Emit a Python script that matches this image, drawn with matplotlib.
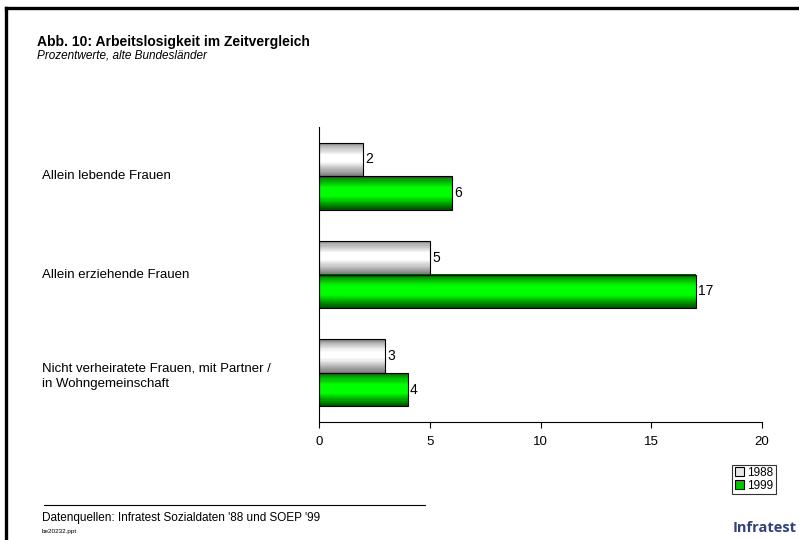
import numpy as np
import matplotlib
matplotlib.use("Agg")
import matplotlib.pyplot as plt
from matplotlib.colors import LinearSegmentedColormap
from matplotlib.patches import Rectangle
from matplotlib.lines import Line2D

plt.rcParams['font.family'] = ['Liberation Sans', 'DejaVu Sans']

categories = [
    "Allein lebende Frauen",
    "Allein erziehende Frauen",
    "Nicht verheiratete Frauen, mit Partner /\nin Wohngemeinschaft",
]
years = ["1988", "1999"]
values_1988 = [2, 5, 3]
values_1999 = [6, 17, 4]
x_ticks = [0, 5, 10, 15, 20]

W, H = 799, 540
fig = plt.figure(figsize=(W / 100, H / 100), dpi=100)

def fx(px):
    return px / W

def fy(py):
    return 1 - py / H

# frame lines (top and left)
fig.add_artist(Line2D([fx(6), fx(799)], [fy(8), fy(8)], color='black', lw=2.4))
fig.add_artist(Line2D([fx(6), fx(6)], [fy(8), fy(540)], color='black', lw=2.4))

ax = fig.add_axes([fx(319), fy(422), fx(762) - fx(319), fy(127) - fy(422)])

bar_h = 0.339
pos = np.arange(len(categories))

# vertical shading of the bars: darker rims, bright centre band
cmap_grey = LinearSegmentedColormap.from_list(
    'shade_grey', [(0.0, '#808080'), (0.1, '#b4b4b4'), (0.36, '#ffffff'),
                   (0.56, '#ffffff'), (0.85, '#a8a8a8'), (1.0, '#7a7a7a')])
cmap_green = LinearSegmentedColormap.from_list(
    'shade_green', [(0.0, '#005800'), (0.1, '#00a000'), (0.35, '#00ff00'),
                    (0.6, '#00ff00'), (0.85, '#009000'), (1.0, '#004a00')])
n_slices = 30
edges = np.linspace(0, 1, n_slices + 1)
mids = (edges[:-1] + edges[1:]) / 2

def shaded_barh(centers, vals, cmap):
    # slices run from the top edge of each bar (smaller y, axis inverted) downwards
    for k, m in enumerate(mids):
        ax.barh(centers - bar_h / 2 + m * bar_h, vals,
                height=bar_h / n_slices * 1.02, color=cmap(m), linewidth=0, zorder=2)
    return ax.barh(centers, vals, height=bar_h, color='none',
                   edgecolor='black', linewidth=0.8, zorder=3)

bars_a = shaded_barh(pos - bar_h / 2, values_1988, cmap_grey)
bars_b = shaded_barh(pos + bar_h / 2, values_1999, cmap_green)

for bars, vals in ((bars_a, values_1988), (bars_b, values_1999)):
    for b, v in zip(bars, vals):
        ax.text(v + 0.1, b.get_y() + b.get_height() / 2, f"{v}",
                va='center', ha='left', fontsize=10)

ax.set_xlim(0, 20)
ax.set_ylim(2.5, -0.5)
ax.set_xticks(x_ticks)
ax.set_xticklabels([str(v) for v in x_ticks], fontsize=9.5)
ax.set_yticks([])
ax.tick_params(axis='x', length=4, width=0.8, pad=6, direction='out')
for s in ('top', 'right'):
    ax.spines[s].set_visible(False)
ax.spines['left'].set_linewidth(0.8)
ax.spines['bottom'].set_linewidth(0.8)

# category labels
for i, c in enumerate(categories):
    yd = ax.transData.transform((0, i))[1] - (3 if "\n" in c else 0)
    fig.text(fx(42), yd / fig.dpi / fig.get_figheight(), c, ha='left',
             va='center', fontsize=9.5, linespacing=1.4)

# titles
fig.text(fx(37), fy(42), "Abb. 10: Arbeitslosigkeit im Zeitvergleich",
         fontsize=10, fontweight='bold', ha='left', va='center')
fig.text(fx(37), fy(55), "Prozentwerte, alte Bundesländer",
         fontsize=8.5, style='italic', ha='left', va='center')

# legend
handles = [Rectangle((0, 0), 1, 1, facecolor='#e8e8e8', edgecolor='black', lw=0.8),
           Rectangle((0, 0), 1, 1, facecolor='#00c800', edgecolor='black', lw=0.8)]
leg = fig.legend(handles, years, loc='lower right',
                 bbox_to_anchor=(fx(776), fy(494)), fontsize=8.5, frameon=True,
                 fancybox=False, edgecolor='black', handlelength=0.8,
                 handleheight=0.8, handletextpad=0.3, borderpad=0.2,
                 labelspacing=0.05, borderaxespad=0)
leg.get_frame().set_linewidth(0.8)

# footer
fig.add_artist(Line2D([fx(44), fx(425)], [fy(505), fy(505)], color='black', lw=0.8))
fig.text(fx(42), fy(518), "Datenquellen: Infratest Sozialdaten '88 und SOEP '99",
         fontsize=8.5, ha='left', va='center')
fig.text(fx(42), fy(531), "be20232.ppt", fontsize=4.6, ha='left', va='center')
fig.text(fx(797), fy(528), "Infratest", fontsize=10.5, fontweight='bold',
         color='#31427a', ha='right', va='center', family=['Open Sans', 'DejaVu Sans'])

fig.savefig("out.png", dpi=100)
